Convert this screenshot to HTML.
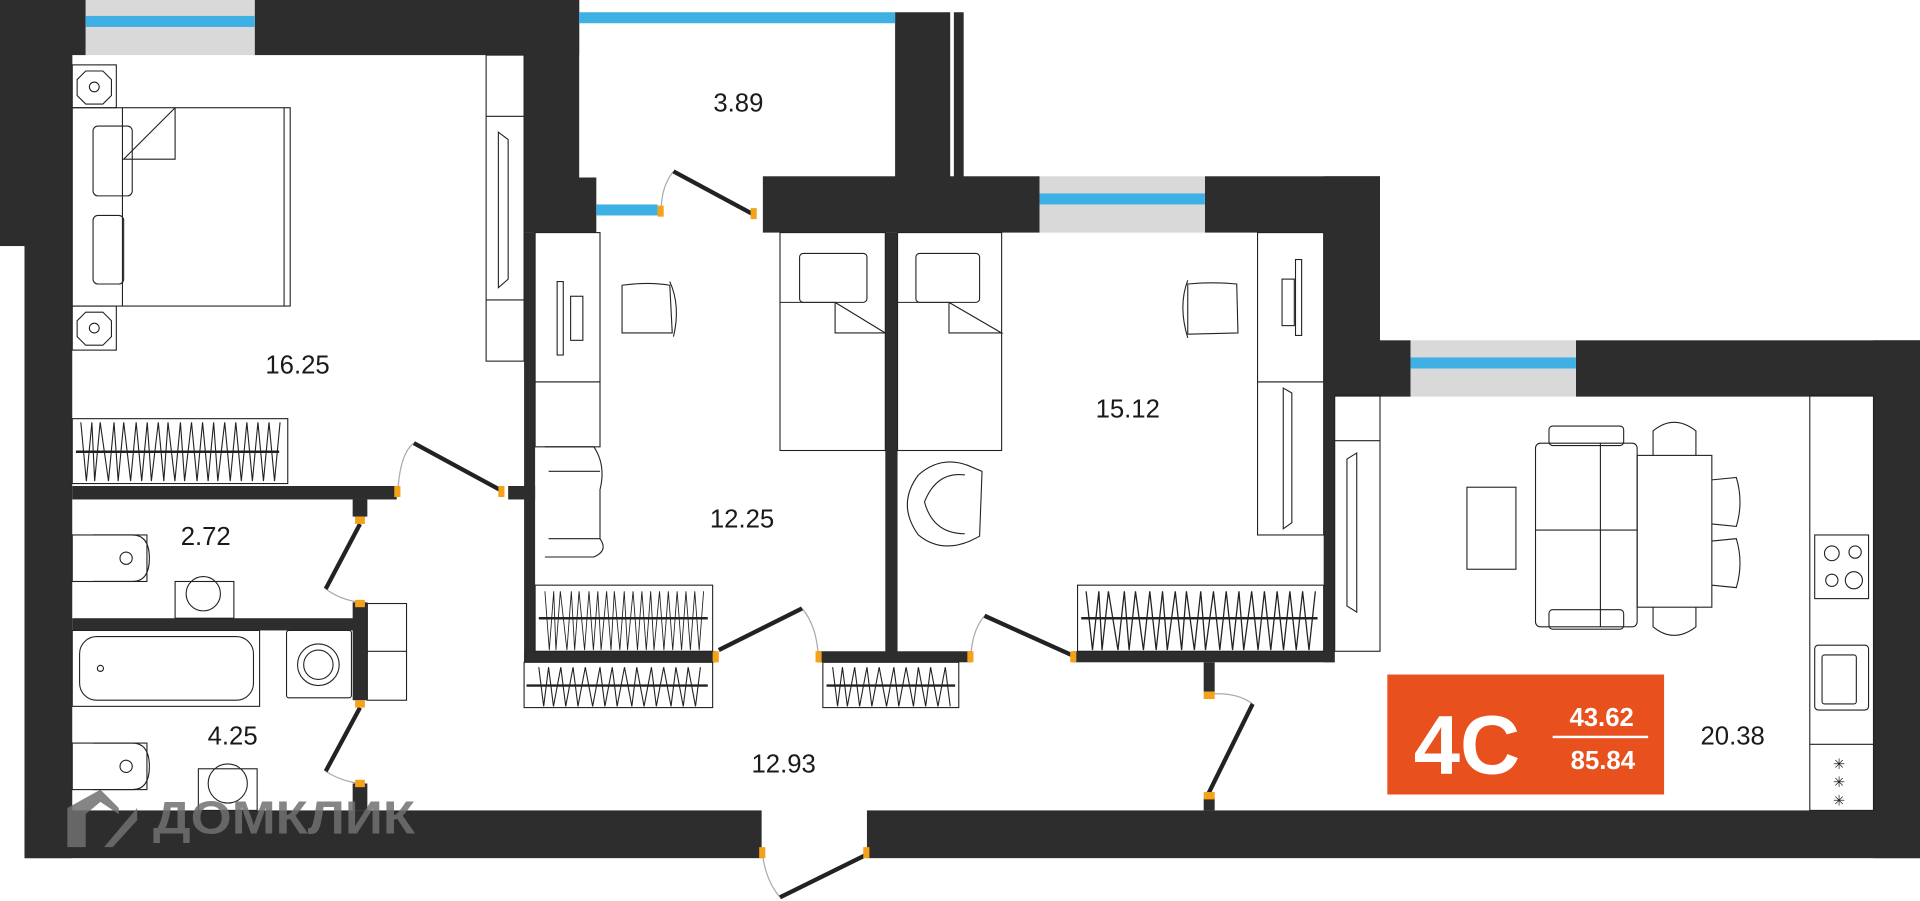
<!DOCTYPE html>
<html><head><meta charset="utf-8"><style>
html,body{margin:0;padding:0;background:#fff;width:1920px;height:901px;overflow:hidden}
svg{display:block}
text{font-family:"Liberation Sans",sans-serif}
</style></head><body>
<svg width="1920" height="901" viewBox="0 0 1568 736" preserveAspectRatio="none" xmlns="http://www.w3.org/2000/svg">
<defs>
<g id="zz">
<polyline fill="none" stroke="#222" stroke-width="0.8" points="0,0 4,48 8,0 10,48 14,0 20,48 24,0 27,48 31,0 36,48 40,0 44,48 48,0 51,48 56,0 60,48 63,0 68,48 72,0 75,48 80,0 84,48 88,0 92,48 96,0 99,48 104,0 108,48 112,0 116,48 120,0 124,48 128,0 132,48 136,0 140,48 144,0"/>
</g>
</defs>
<g fill="#2d2d2d">
<rect x="0" y="0" width="70" height="45"/>
<rect x="208" y="0" width="265" height="45"/>
<rect x="0" y="0" width="59" height="201"/>
<rect x="20" y="0" width="39" height="701"/>
<rect x="428" y="0" width="45" height="145"/>
<rect x="428" y="145" width="59" height="45"/>
<rect x="428" y="190" width="9" height="351"/>
<rect x="731" y="10" width="45" height="135"/>
<rect x="779" y="10" width="8" height="135"/>
<rect x="623" y="144" width="226" height="46"/>
<rect x="984" y="144" width="143" height="46"/>
<rect x="1081" y="144" width="46" height="180"/>
<rect x="1127" y="278" width="25" height="46"/>
<rect x="1287" y="278" width="281" height="46"/>
<rect x="1530" y="278" width="38" height="423"/>
<rect x="1081" y="323" width="9" height="218"/>
<rect x="20" y="662" width="602" height="39"/>
<rect x="708" y="662" width="860" height="39"/>
<rect x="59" y="397" width="265" height="11"/>
<rect x="415" y="397" width="22" height="11"/>
<rect x="288" y="408" width="12" height="14"/>
<rect x="288" y="492" width="12" height="80"/>
<rect x="288" y="640" width="12" height="22"/>
<rect x="59" y="505" width="241" height="10"/>
<rect x="723" y="190" width="10" height="351"/>
<rect x="428" y="532" width="157" height="9"/>
<rect x="668" y="532" width="125" height="9"/>
<rect x="876" y="532" width="214" height="9"/>
<rect x="983" y="541" width="9" height="24"/>
<rect x="983" y="652" width="9" height="10"/>
</g>
<rect x="70" y="0" width="138" height="45" fill="#d9d9d9"/><rect x="70" y="13" width="138" height="9" fill="#3eb0e3"/>
<rect x="473" y="10" width="258" height="9" fill="#3eb0e3"/>
<rect x="487" y="167" width="50" height="9" fill="#3eb0e3"/>
<rect x="849" y="144" width="135" height="46" fill="#d9d9d9"/><rect x="849" y="158" width="135" height="9" fill="#3eb0e3"/>
<rect x="1152" y="278" width="135" height="46" fill="#d9d9d9"/><rect x="1152" y="292" width="135" height="9" fill="#3eb0e3"/>
<g fill="none" stroke="#aaa" stroke-width="1">
<path d="M550,140 Q540,152 540,172"/><path d="M325,400 Q327,370 338,362"/>
<path d="M266,481 Q278,490 294,492"/><path d="M266,630 Q278,638 294,640"/>
<path d="M655,497 Q666,510 668,532"/><path d="M804,503 Q794,515 793,535"/>
<path d="M1023,575 Q1010,565 987,567"/><path d="M637,733 Q626,720 623,700"/>
</g>
<g stroke="#222" stroke-width="3.5" stroke-linecap="butt">
<line x1="615" y1="175" x2="550" y2="140"/><line x1="408" y1="400" x2="338" y2="362"/>
<line x1="294" y1="428" x2="266" y2="481"/><line x1="294" y1="578" x2="266" y2="630"/>
<line x1="587" y1="531" x2="655" y2="497"/><line x1="875" y1="535" x2="804" y2="503"/>
<line x1="987" y1="648" x2="1023" y2="575"/><line x1="708" y1="698" x2="637" y2="733"/>
</g>
<g fill="#f5a21b">
<rect x="537" y="168" width="5" height="9"/><rect x="613" y="170" width="5" height="9"/>
<rect x="322" y="397" width="5" height="9"/><rect x="407" y="397" width="5" height="9"/>
<rect x="290" y="422" width="8" height="6"/><rect x="290" y="490" width="8" height="6"/>
<rect x="290" y="572" width="8" height="6"/><rect x="290" y="637" width="8" height="6"/>
<rect x="582" y="532" width="5" height="9"/><rect x="666" y="532" width="5" height="9"/>
<rect x="790" y="532" width="5" height="9"/><rect x="874" y="532" width="5" height="9"/>
<rect x="983" y="565" width="9" height="6"/><rect x="983" y="647" width="9" height="6"/>
<rect x="620" y="692" width="5" height="9"/><rect x="705" y="692" width="5" height="9"/>
</g>
<g fill="none" stroke="#222" stroke-width="0.9">
<rect x="59" y="53" width="36" height="35"/><rect x="59" y="250" width="36" height="36"/>
<polygon points="70,58 84,58 91,65 91,78 84,85 70,85 63,78 63,65"/><circle cx="77" cy="71" r="4"/>
<polygon points="70,255 84,255 91,262 91,275 84,282 70,282 63,275 63,262"/><circle cx="77" cy="268" r="4"/>
<rect x="59" y="88" width="178" height="162"/><line x1="232" y1="88" x2="232" y2="250"/>
<line x1="100" y1="88" x2="100" y2="250"/>
<rect x="76" y="103" width="32" height="57" rx="4"/><rect x="76" y="176" width="25" height="56" rx="4"/>
<polyline points="143,88 101,130 143,130 143,88"/>
<rect x="397" y="45" width="31" height="250"/><line x1="397" y1="95" x2="428" y2="95"/><line x1="397" y1="245" x2="428" y2="245"/>
<polygon points="407,108 415,114 415,228 407,235"/>
<rect x="59" y="342" width="176" height="53"/>
<line x1="62" y1="369" x2="228" y2="369" stroke-width="2"/>
<use href="#zz" transform="translate(66,345) scale(1.13,1)"/>
<rect x="437" y="190" width="53" height="122"/><rect x="437" y="312" width="53" height="53"/>
<rect x="455" y="230" width="5" height="60"/><rect x="466" y="242" width="10" height="36"/>
<path d="M508,233 Q530,230 547,233 L549,272 L508,272 Z"/><path d="M547,230 Q556,250 550,275"/>
<path d="M445,365 L485,365 Q495,380 490,400 L490,440 Q497,450 485,455 L445,455"/><line x1="448" y1="385" x2="490" y2="385"/><line x1="448" y1="440" x2="490" y2="440"/>
<rect x="437" y="478" width="145" height="54"/><line x1="440" y1="505" x2="578" y2="505" stroke-width="2"/>
<use href="#zz" transform="translate(445,483) scale(0.9,1)"/>
<rect x="428" y="541" width="154" height="37"/><line x1="430" y1="560" x2="578" y2="560" stroke-width="2"/>
<polyline points="440,545 444,577 448,545 452,577 458,545 462,577 468,545 472,577 478,545 484,577 490,545 494,577 500,545 504,577 510,545 516,577 520,545 526,577 532,545 536,577 542,545 548,577 552,545 558,577 562,545 568,577 572,545"/>
<rect x="672" y="541" width="111" height="37"/><line x1="675" y1="560" x2="780" y2="560" stroke-width="2"/>
<polyline points="680,545 684,577 688,545 692,577 698,545 702,577 708,545 712,577 718,545 724,577 730,545 734,577 740,545 746,577 750,545 756,577 760,545 766,577 772,545 776,577"/>
<rect x="637" y="190" width="86" height="178"/><rect x="653" y="207" width="55" height="40" rx="3"/><polyline points="637,247 682,247 682,272 723,272 682,247"/>
<rect x="733" y="190" width="85" height="178"/><rect x="748" y="207" width="52" height="40" rx="3"/><polyline points="733,247 775,247 775,272 818,272 775,247"/>
<rect x="1027" y="190" width="54" height="122"/><rect x="1027" y="312" width="54" height="125"/>
<rect x="1058" y="212" width="5" height="62"/><rect x="1047" y="228" width="10" height="38"/>
<path d="M970,232 Q990,230 1010,232 L1011,272 L970,273 Z"/><path d="M970,229 Q962,250 970,276"/>
<polygon points="1048,317 1055,321 1055,427 1048,432"/>
<path d="M790,380 Q768,372 750,388 Q732,412 750,437 Q768,452 792,442 L800,438 L802,385 Z"/>
<path d="M788,388 Q765,385 755,410 Q762,436 788,436"/>
<rect x="880" y="478" width="201" height="54"/><line x1="883" y1="505" x2="1076" y2="505" stroke-width="2"/>
<use href="#zz" transform="translate(887,483) scale(1.3,1)"/>
<rect x="1090" y="323" width="37" height="209"/><line x1="1090" y1="360" x2="1127" y2="360"/>
<polygon points="1100,375 1108,370 1108,500 1100,495"/>
<rect x="1198" y="398" width="40" height="67"/>
<rect x="1254" y="362" width="83" height="150" rx="4"/><line x1="1254" y1="433" x2="1337" y2="433"/><line x1="1307" y1="362" x2="1307" y2="512"/>
<rect x="1265" y="348" width="61" height="16" rx="3"/><rect x="1265" y="498" width="61" height="16" rx="3"/>
<rect x="1337" y="372" width="61" height="124"/>
<path d="M1350,372 L1350,352 Q1367,338 1385,352 L1385,372"/><path d="M1350,496 L1350,512 Q1367,526 1385,512 L1385,496"/>
<path d="M1398,392 L1418,390 Q1424,410 1418,430 L1398,428"/><path d="M1398,442 L1418,440 Q1424,460 1418,480 L1398,478"/>
<rect x="1478" y="323" width="52" height="339"/>
<rect x="1482" y="437" width="44" height="52"/><circle cx="1496" cy="452" r="6"/><circle cx="1515" cy="451" r="5"/><circle cx="1496" cy="474" r="5"/><circle cx="1514" cy="474" r="7"/>
<rect x="1482" y="527" width="44" height="53" rx="3"/><rect x="1488" y="535" width="28" height="40" rx="2"/>
<line x1="1478" y1="608" x2="1530" y2="608"/>
<rect x="59" y="437" width="61" height="38"/><path d="M76,437 L108,437 Q122,437 122,456 Q122,475 108,475 L76,475"/><circle cx="103" cy="456" r="5"/>
<rect x="143" y="475" width="48" height="30"/><circle cx="166" cy="485" r="14"/>
<rect x="59" y="515" width="153" height="62"/><rect x="65" y="520" width="142" height="52" rx="14"/><circle cx="82" cy="546" r="2.5"/>
<rect x="234" y="515" width="53" height="55" rx="2"/><circle cx="260" cy="543" r="17"/><circle cx="260" cy="543" r="12"/>
<rect x="300" y="493" width="32" height="79"/><line x1="300" y1="532" x2="332" y2="532"/>
<rect x="59" y="607" width="61" height="38"/><path d="M76,607 L108,607 Q122,607 122,626 Q122,645 108,645 L76,645"/><circle cx="103" cy="626" r="5"/>
<rect x="162" y="628" width="48" height="34"/><circle cx="186" cy="640" r="16"/>
</g>
<g font-size="12" fill="#222"><text x="1497" y="628">✳</text><text x="1497" y="643">✳</text><text x="1497" y="658">✳</text></g>
<g fill="#707070" opacity="0.85">
<path d="M55,660 L55,692 L70,692 L70,665 L82,655 L97,665 L97,660 L82,645 Z"/>
<path d="M85,692 L112,660 L112,670 L92,692 Z"/>
</g>
<text x="125" y="681" font-size="38" font-weight="bold" fill="#707070" opacity="0.85" textLength="214" lengthAdjust="spacingAndGlyphs">ДОМКЛИК</text>
<g font-size="21" fill="#1a1a1a" text-anchor="middle">
<text x="603" y="91">3.89</text><text x="243" y="305">16.25</text><text x="606" y="431">12.25</text>
<text x="921" y="341">15.12</text><text x="168" y="445">2.72</text><text x="190" y="608">4.25</text>
<text x="640" y="631">12.93</text><text x="1415" y="608">20.38</text>
</g>
<rect x="1133" y="551" width="226" height="98" fill="#e8501e"/>
<text x="1198" y="632" font-size="68" font-weight="bold" fill="#fff" text-anchor="middle">4C</text>
<text x="1308" y="593" font-size="21" font-weight="bold" fill="#fff" text-anchor="middle">43.62</text>
<rect x="1268" y="601" width="78" height="2" fill="#fff"/>
<text x="1309" y="628" font-size="21" font-weight="bold" fill="#fff" text-anchor="middle">85.84</text>
</svg>
</body></html>
